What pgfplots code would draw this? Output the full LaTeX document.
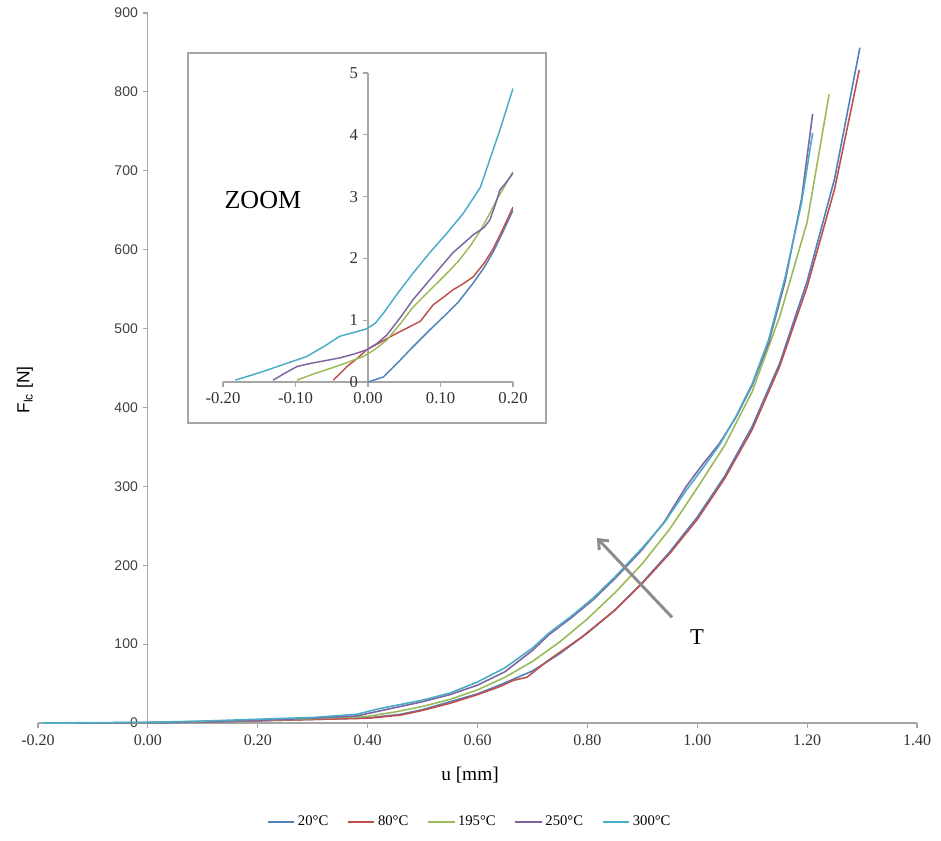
\documentclass[border=0pt]{standalone}
\usepackage{pgfplots}
\pgfplotsset{compat=1.18}
\usepackage{fontspec}
\setmainfont{Liberation Serif}
\setsansfont{Liberation Sans}
\usetikzlibrary{arrows.meta}

\definecolor{cA}{HTML}{4F81BD}
\definecolor{cB}{HTML}{C0504D}
\definecolor{cC}{HTML}{9BBB59}
\definecolor{cD}{HTML}{8064A2}
\definecolor{cE}{HTML}{4BACC6}
\definecolor{axgray}{HTML}{A6A6A6}

\begin{document}
\begin{tikzpicture}
% 1 px of the reference = 0.75pt
\path[use as bounding box] (-28.5pt,-87.75pt) rectangle (677.25pt,542.25pt);

\begin{axis}[
    at={(0pt,0pt)}, anchor=south west,
    scale only axis, width=659.25pt, height=532.5pt,
    xmin=-0.2, xmax=1.4, ymin=0, ymax=900,
    axis x line=bottom, axis y line=center,
    axis line style={axgray, line width=0.8pt, -},
    hide obscured x ticks=false, hide obscured y ticks=false,
    xtick={-0.2,0,0.2,0.4,0.6,0.8,1.0,1.2,1.4},
    ytick={0,100,200,300,400,500,600,700,800,900},
    tick align=outside, major tick length=4pt,
    tick style={axgray, line width=0.8pt},
    /pgf/number format/assume math mode=true,
    xticklabel style={/pgf/number format/.cd, fixed, fixed zerofill, precision=2, /tikz/.cd,
        font=\fontsize{12}{14}\selectfont, text=black!80, yshift=-1pt},
    yticklabel style={font=\sffamily\fontsize{10.5}{12}\selectfont, text=black!75},
    xlabel={u [mm]}, ylabel={F\textsubscript{lc} [N]},
    every axis x label/.style={at={(axis description cs:0.4915,-0.073)}, anchor=center,
        font=\fontsize{14.5}{16}\selectfont},
    every axis y label/.style={at={(axis description cs:-0.015,0.469)}, anchor=center, rotate=90,
        font=\sffamily\fontsize{13}{15}\selectfont},
    legend columns=5,
    legend style={at={(axis description cs:0.4915,-0.1394)}, anchor=center, draw=none,
        font=\fontsize{11}{13}\selectfont,
        /tikz/every even column/.append style={column sep=12pt}},
    legend image code/.code={\draw[#1, line width=1.3pt] (0pt,0pt) -- (20pt,0pt);},
    every axis plot/.append style={line width=1.2pt, no markers},
]
\addplot[cA] coordinates {
(0,0) (0.1,1) (0.2,2.8) (0.3,4.5) (0.4,6.5) (0.46,11) (0.5,17) (0.55,27) (0.6,37)
(0.64,48) (0.7,66) (0.75,88) (0.8,114) (0.85,143) (0.9,178) (0.95,217) (1.0,261)
(1.05,313) (1.1,376) (1.15,456) (1.2,560) (1.25,690) (1.296,856)};
\addlegendentry{20°C}
\addplot[cB] coordinates {
(-0.05,0) (0,0.5) (0.1,1.4) (0.2,2.8) (0.3,4.5) (0.4,6) (0.46,10) (0.5,16) (0.55,25)
(0.6,36) (0.64,46) (0.665,54) (0.69,58) (0.73,80) (0.79,109) (0.85,143) (0.9,177)
(0.95,215) (1.0,258) (1.05,310) (1.1,372) (1.15,452) (1.2,553) (1.25,677) (1.295,828)};
\addlegendentry{80°C}
\addplot[cC] coordinates {
(-0.1,0) (0,0.4) (0.2,3.4) (0.3,5.5) (0.4,8.5) (0.45,14) (0.5,21) (0.55,30) (0.6,42)
(0.65,58) (0.7,78) (0.75,103) (0.8,132) (0.85,165) (0.9,202) (0.95,246) (1.0,298)
(1.05,352) (1.1,420) (1.15,515) (1.2,635) (1.24,797)};
\addlegendentry{195°C}
\addplot[cD] coordinates {
(-0.13,0) (0,0.5) (0.2,3.4) (0.3,6) (0.38,9) (0.42,15) (0.5,27) (0.55,36) (0.6,48)
(0.65,65) (0.7,92) (0.73,112) (0.77,133) (0.81,156) (0.85,183) (0.9,220) (0.94,255)
(0.98,300) (1.01,328) (1.04,354) (1.07,387) (1.1,428) (1.13,482) (1.16,560) (1.19,665) (1.21,772)};
\addlegendentry{250°C}
\addplot[cE] coordinates {
(-0.19,0) (-0.1,0.4) (0,0.9) (0.1,2.4) (0.2,4.8) (0.3,7) (0.38,11) (0.42,18) (0.5,29)
(0.55,38) (0.6,52) (0.65,70) (0.7,95) (0.73,114) (0.77,135) (0.81,158) (0.85,185)
(0.9,222) (0.94,254) (0.98,295) (1.01,323) (1.04,352) (1.07,388) (1.1,430) (1.13,486)
(1.16,565) (1.19,660) (1.21,748)};
\addlegendentry{300°C}

% temperature arrow
\draw[gray!90, line width=2.2pt, -{Straight Barb[length=6pt, width=10pt]}]
    (axis cs:0.954,134) -- (axis cs:0.8175,234.5);
\node[font=\fontsize{17}{19}\selectfont] at (axis cs:0.9995,109) {T};
\end{axis}

% inset frame
\draw[axgray, line width=1pt, fill=white] (112.5pt,225pt) rectangle (381pt,502.5pt);

\begin{axis}[
    at={(138.75pt,255.75pt)}, anchor=south west,
    scale only axis, width=217.5pt, height=231.75pt,
    xmin=-0.2, xmax=0.2, ymin=0, ymax=5,
    axis x line=bottom, axis y line=center,
    axis line style={axgray, line width=0.8pt, -},
    hide obscured x ticks=false, hide obscured y ticks=false,
    xtick={-0.2,-0.1,0,0.1,0.2}, ytick={0,1,2,3,4,5},
    tick align=outside, major tick length=4pt,
    tick style={axgray, line width=0.8pt},
    /pgf/number format/assume math mode=true,
    xticklabel style={/pgf/number format/.cd, fixed, fixed zerofill, precision=2, /tikz/.cd,
        font=\fontsize{12.5}{14}\selectfont, text=black!80},
    yticklabel style={font=\fontsize{12.5}{14}\selectfont, text=black!80},
    every axis plot/.append style={line width=1.1pt, no markers},
]
\addplot[cA] coordinates {
(0.0,0.0) (0.021,0.08) (0.04,0.3) (0.062,0.57) (0.085,0.84) (0.109,1.11) (0.125,1.3)
(0.145,1.6) (0.16,1.85) (0.172,2.09) (0.185,2.4) (0.2,2.78)};
\addplot[cB] coordinates {
(-0.048,0.03) (-0.04,0.12) (-0.029,0.25) (-0.015,0.38) (-0.002,0.52) (0.015,0.63)
(0.035,0.76) (0.055,0.88) (0.072,0.98) (0.09,1.25) (0.105,1.38) (0.117,1.49) (0.13,1.58)
(0.145,1.70) (0.16,1.92) (0.172,2.14) (0.185,2.45) (0.2,2.83)};
\addplot[cC] coordinates {
(-0.098,0.03) (-0.075,0.13) (-0.052,0.22) (-0.03,0.31) (-0.007,0.41) (0.01,0.53)
(0.026,0.68) (0.045,0.95) (0.062,1.21) (0.085,1.48) (0.109,1.76) (0.125,1.96) (0.141,2.2)
(0.155,2.45) (0.168,2.73) (0.18,3.0) (0.19,3.2) (0.2,3.40)};
\addplot[cD] coordinates {
(-0.131,0.03) (-0.115,0.14) (-0.098,0.25) (-0.08,0.30) (-0.066,0.33) (-0.039,0.39)
(-0.02,0.45) (-0.002,0.52) (0.012,0.62) (0.026,0.76) (0.045,1.05) (0.062,1.33) (0.09,1.72)
(0.117,2.09) (0.145,2.38) (0.16,2.5) (0.168,2.62) (0.175,2.85) (0.182,3.11) (0.19,3.22) (0.2,3.38)};
\addplot[cE] coordinates {
(-0.183,0.03) (-0.15,0.15) (-0.12,0.27) (-0.085,0.41) (-0.06,0.58) (-0.039,0.74)
(-0.02,0.80) (-0.002,0.86) (0.01,0.95) (0.021,1.11) (0.04,1.42) (0.062,1.76) (0.085,2.09)
(0.109,2.41) (0.1315,2.73) (0.155,3.15) (0.168,3.6) (0.182,4.08) (0.2,4.75)};

\node[font=\fontsize{19.5}{22}\selectfont] at (axis cs:-0.145,2.94) {ZOOM};
\end{axis}
\end{tikzpicture}
\end{document}
